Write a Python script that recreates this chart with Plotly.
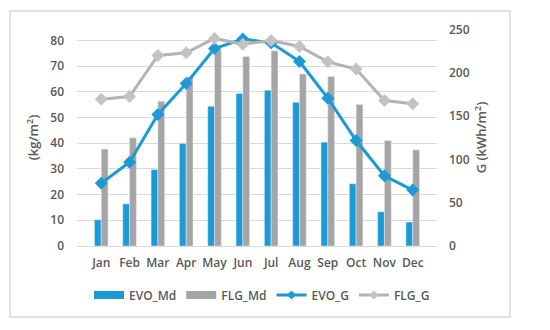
import plotly.graph_objects as go

months = ["Jan", "Feb", "Mar", "Apr", "May", "Jun", "Jul", "Aug", "Sep", "Oct", "Nov", "Dec"]
evo_md = [10.2, 16.4, 29.7, 39.9, 54.4, 59.3, 60.6, 55.9, 40.4, 24.2, 13.3, 9.3]
flg_md = [37.7, 42.1, 56.3, 65.8, 76.5, 73.7, 75.9, 66.9, 65.9, 55.0, 41.0, 37.4]
evo_g = [72.5, 96.8, 151.9, 187.7, 228.0, 239.0, 234.5, 213.0, 170.7, 121.8, 81.1, 64.6]
flg_g = [169.4, 172.6, 220.0, 223.0, 239.6, 233.0, 237.3, 230.3, 212.6, 204.2, 168.0, 164.2]

left_ticks = [0, 10, 20, 30, 40, 50, 60, 70, 80]
right_ticks = [0, 50, 100, 150, 200, 250]

BLUE = "#1b9ad6"
GRAY_BAR = "#a5a5a5"
GRAY_LINE = "#b3b3b3"
GRAY_MARK = "#c3c3c3"
TXT = "#595959"
FONT = "Open Sans"

fig = go.Figure()
fig.add_trace(go.Bar(x=months, y=evo_md, name="EVO_Md", marker_color=BLUE, yaxis="y",
                     showlegend=False))
fig.add_trace(go.Bar(x=months, y=flg_md, name="FLG_Md", marker_color=GRAY_BAR, yaxis="y",
                     showlegend=False))
fig.add_trace(go.Scatter(x=months, y=evo_g, name="EVO_G", mode="lines+markers", yaxis="y2",
                         line=dict(color=BLUE, width=3), showlegend=False,
                         marker=dict(symbol="diamond", size=10, color=BLUE)))
fig.add_trace(go.Scatter(x=months, y=flg_g, name="FLG_G", mode="lines+markers", yaxis="y2",
                         line=dict(color=GRAY_LINE, width=3), showlegend=False,
                         marker=dict(symbol="diamond", size=10, color=GRAY_MARK)))

# legend entries in the Excel style (wide rectangle swatches, small diamonds)
fig.add_trace(go.Scatter(x=[None], y=[None], name="EVO_Md", mode="lines", yaxis="y2",
                         line=dict(color=BLUE, width=8)))
fig.add_trace(go.Scatter(x=[None], y=[None], name="FLG_Md", mode="lines", yaxis="y2",
                         line=dict(color=GRAY_BAR, width=8)))
fig.add_trace(go.Scatter(x=[None], y=[None], name="EVO_G", mode="lines+markers", yaxis="y2",
                         line=dict(color=BLUE, width=3),
                         marker=dict(symbol="diamond", size=7, color=BLUE)))
fig.add_trace(go.Scatter(x=[None], y=[None], name="FLG_G", mode="lines+markers", yaxis="y2",
                         line=dict(color=GRAY_LINE, width=3),
                         marker=dict(symbol="diamond", size=7, color=GRAY_MARK)))

W, H = 550, 330
l, r, t, b = 77, 113, 29, 84
pw, ph = W - l - r, H - t - b

fig.update_layout(
    width=W, height=H,
    margin=dict(l=l, r=r, t=t, b=b, autoexpand=False),
    paper_bgcolor="white", plot_bgcolor="white",
    font=dict(family=FONT, size=12, color=TXT, weight=600),
    barmode="group", bargap=0.52, bargroupgap=0,
    showlegend=True,
    legend=dict(orientation="h", x=(262 - l) / pw, xanchor="center",
                y=-49 / ph, yanchor="middle",
                font=dict(size=12, color=TXT, family=FONT, weight=600),
                itemwidth=30, tracegroupgap=0),
    xaxis=dict(showgrid=False, showline=False, ticks="", ticklabelstandoff=8, automargin=False,
               tickfont=dict(size=12, color=TXT)),
    yaxis=dict(range=[0, 84.4], tickvals=left_ticks, showgrid=True, gridcolor="#d9d9d9",
               gridwidth=1, zeroline=True, zerolinecolor="#d9d9d9", zerolinewidth=1,
               showline=False, ticks="", ticklabelstandoff=12, automargin=False,
               title=dict(text="(kg/m<sup>2</sup>)", standoff=8, font=dict(size=13, color=TXT)),
               tickfont=dict(size=12, color=TXT)),
    yaxis2=dict(range=[0, 250.5], tickvals=right_ticks, overlaying="y", side="right",
                showgrid=False, zeroline=False, showline=False, ticks="", ticklabelstandoff=11,
                automargin=False,
                title=dict(text="G (kWh/m<sup>2</sup>)", standoff=8, font=dict(size=13, color=TXT)),
                tickfont=dict(size=12, color=TXT)),
)

# outer frame of the chart
fig.add_shape(type="rect", xref="paper", yref="paper",
              x0=(10 - l) / pw, x1=(510 - l) / pw,
              y0=(H - b - 317) / ph, y1=(H - b - 11) / ph,
              line=dict(color="#d9d9d9", width=1.5), fillcolor="rgba(0,0,0,0)", layer="below")

fig.write_html("out.html", config={"displayModeBar": False},
               post_script="document.body.style.margin='0';")
